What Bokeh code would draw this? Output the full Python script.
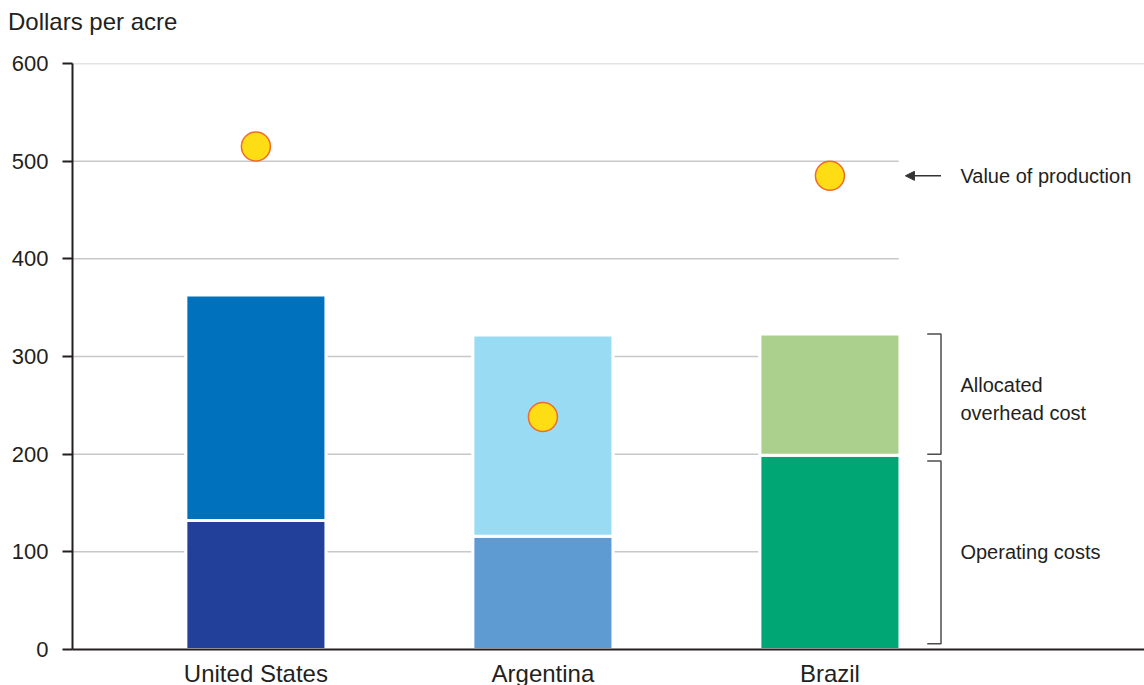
from bokeh.plotting import figure
from bokeh.models import Range1d, FixedTicker, Arrow, NormalHead, Div
from bokeh.layouts import column
from bokeh.core.properties import value
from bokeh.embed import file_html
from bokeh.resources import INLINE

# ---- data ----
countries = ["United States", "Argentina", "Brazil"]
operating_costs = [132, 116, 199]
overhead_costs = [231, 206, 124]
value_of_production = [515, 238, 485]
bottom_colors = ["#22409A", "#5E9BD3", "#00A775"]
top_colors = ["#0071BC", "#9ADBF4", "#ABD08E"]
y_ticks = [0, 100, 200, 300, 400, 500, 600]
y_title = "Dollars per acre"

xs = list(range(len(countries)))
totals = [a + b for a, b in zip(operating_costs, overhead_costs)]

X_START, X_END = -0.639, 3.096
BAR_W = 0.488
GAP_W = 0.497

FONT = "Liberation Sans"
TXT = "#231F20"

title_div = Div(text=y_title, width=400, height=44, margin=(0, 0, 0, 8),
                styles={"font-family": "'Liberation Sans', Arial, sans-serif",
                        "font-size": "24px", "line-height": "44px",
                        "color": TXT, "white-space": "nowrap"})

p = figure(frame_width=1072, frame_height=586, output_backend="svg",
           toolbar_location=None, x_range=Range1d(X_START, X_END),
           y_range=Range1d(0, 600),
           min_border_left=72, min_border_top=19, min_border_bottom=36,
           min_border_right=0)
p.outline_line_color = None
p.xgrid.grid_line_color = None
p.ygrid.grid_line_color = None

# axes
p.yaxis.ticker = FixedTicker(ticks=y_ticks)
p.yaxis.axis_line_color = TXT
p.yaxis.axis_line_width = 2
p.yaxis.major_tick_line_color = TXT
p.yaxis.major_tick_line_width = 2
p.yaxis.major_tick_out = 10
p.yaxis.major_tick_in = 0
p.yaxis.minor_tick_line_color = None
p.yaxis.major_label_standoff = 14
p.yaxis.major_label_text_font = FONT
p.yaxis.major_label_text_font_size = "22px"
p.yaxis.major_label_text_color = TXT

p.xaxis.ticker = FixedTicker(ticks=xs)
p.xaxis.major_label_overrides = {i: c for i, c in zip(xs, countries)}
p.xaxis.axis_line_color = TXT
p.xaxis.axis_line_width = 2
p.xaxis.major_tick_line_color = None
p.xaxis.minor_tick_line_color = None
p.xaxis.major_tick_out = 0
p.xaxis.major_tick_in = 0
p.xaxis.major_label_standoff = 10
p.xaxis.major_label_text_font = FONT
p.xaxis.major_label_text_font_size = "24px"
p.xaxis.major_label_text_color = TXT

# gridlines (drawn as segments: 100-500 stop at last bar, top one spans all)
right_edge = xs[-1] + BAR_W / 2 - 0.004
g_y = y_ticks[1:-1]
p.segment(x0=[X_START] * len(g_y), y0=g_y, x1=[right_edge] * len(g_y), y1=g_y,
          line_color="#C8C8C8", line_width=1.5)
p.segment(x0=[X_START], y0=[y_ticks[-1]], x1=[X_END], y1=[y_ticks[-1]],
          line_color="#C8C8C8", line_width=1.5)

# white gaps around bars
p.vbar(x=xs, width=GAP_W, bottom=0, top=totals, fill_color="white",
       line_color=None)
# stacked bars
p.vbar(x=xs, width=BAR_W, bottom=0, top=operating_costs, fill_color=bottom_colors,
       line_color="white", line_width=3)
p.vbar(x=xs, width=BAR_W, bottom=operating_costs, top=totals, fill_color=top_colors,
       line_color="white", line_width=3)

# value of production dots
p.scatter(x=xs, y=value_of_production, size=29, fill_color="#FFDD15",
          line_color="#F26B2A", line_width=1.5)

# brackets
bx_tick, bx_v = 2.339, 2.387
b_op = operating_costs[-1]
b_tot = totals[-1]
upper = (b_op + 1, b_tot)
lower = (6, b_op - 6)
p.multi_line(xs=[[bx_tick, bx_v, bx_v, bx_tick], [bx_tick, bx_v, bx_v, bx_tick]],
             ys=[[upper[1], upper[1], upper[0], upper[0]],
                 [lower[1], lower[1], lower[0], lower[0]]],
             line_color="#4D4D4D", line_width=1.5)

# arrow for value of production
p.add_layout(Arrow(end=NormalHead(size=9, fill_color="#333333", line_color="#333333",
                                  line_width=1),
                   x_start=2.387, y_start=value_of_production[-1],
                   x_end=2.263, y_end=value_of_production[-1],
                   line_color="#333333", line_width=1.5))

# right-side annotation texts
tx = 2.4547
p.text(x=[tx, tx, tx],
       y=[value_of_production[-1], (upper[0] + upper[1]) / 2 - 5, (lower[0] + lower[1]) / 2],
       text=["Value of production", "Allocated\noverhead cost", "Operating costs"],
       text_font=value(FONT), text_font_size="20px", text_color=TXT,
       text_baseline="middle", text_align="left", text_line_height=1.3)

layout = column(title_div, p, spacing=0)
open("out.html", "w").write(file_html(layout, INLINE))
